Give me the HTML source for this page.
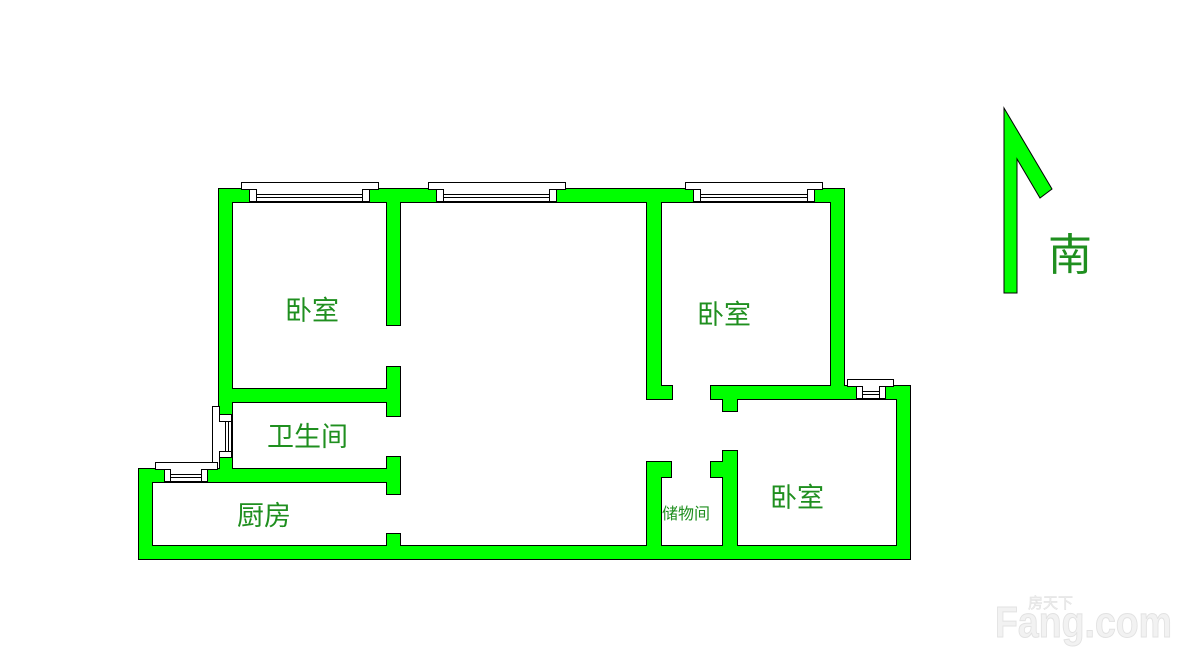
<!DOCTYPE html>
<html><head><meta charset="utf-8"><style>
html,body{margin:0;padding:0;background:#fff;}
svg{display:block;}
text{font-family:"Liberation Sans","Noto Sans CJK SC","WenQuanYi Zen Hei",sans-serif;fill:#1f8f1f;}
</style></head><body>
<svg width="1191" height="659" viewBox="0 0 1191 659" xmlns="http://www.w3.org/2000/svg">
<defs>
<g id="walls">
<rect x="219" y="189" width="624" height="13"/>
<rect x="219" y="189" width="13" height="280"/>
<rect x="387" y="189" width="13" height="136"/>
<rect x="387" y="367" width="13" height="49"/>
<rect x="219" y="389" width="181" height="13"/>
<rect x="139" y="469" width="261" height="13"/>
<rect x="387" y="457" width="13" height="37"/>
<rect x="387" y="534" width="13" height="25"/>
<rect x="139" y="469" width="13" height="90"/>
<rect x="139" y="546" width="771" height="13"/>
<rect x="647" y="189" width="14" height="210"/>
<rect x="647" y="386" width="25" height="13"/>
<rect x="831" y="189" width="13" height="210"/>
<rect x="711" y="386" width="199" height="13"/>
<rect x="723" y="399" width="14" height="12"/>
<rect x="897" y="386" width="13" height="173"/>
<rect x="723" y="451" width="14" height="108"/>
<rect x="647" y="462" width="14" height="97"/>
<rect x="647" y="462" width="24" height="15"/>
<rect x="711" y="462" width="26" height="15"/>
</g>
</defs>
<use href="#walls" fill="#000" stroke="#000" stroke-width="2"/>
<use href="#walls" fill="#00ff00"/>

<g fill="#fff" stroke="#000" stroke-width="1">
<rect x="241.5" y="182.5" width="137" height="7"/>
<rect x="249" y="189" width="121" height="13" stroke="none"/>
<line x1="257" y1="194.5" x2="362" y2="194.5"/><line x1="257" y1="197.5" x2="362" y2="197.5"/>
<line x1="257" y1="201.5" x2="362" y2="201.5"/>
<rect x="249.5" y="189.5" width="7" height="12"/><rect x="362.5" y="189.5" width="7" height="12"/>
<rect x="428.5" y="182.5" width="137" height="7"/>
<rect x="436" y="189" width="121" height="13" stroke="none"/>
<line x1="443" y1="194.5" x2="549" y2="194.5"/><line x1="443" y1="197.5" x2="549" y2="197.5"/>
<line x1="443" y1="201.5" x2="549" y2="201.5"/>
<rect x="436.5" y="189.5" width="7" height="12"/><rect x="549.5" y="189.5" width="7" height="12"/>
<rect x="685.5" y="182.5" width="137" height="7"/>
<rect x="693" y="189" width="121" height="13" stroke="none"/>
<line x1="700" y1="194.5" x2="808" y2="194.5"/><line x1="700" y1="197.5" x2="808" y2="197.5"/>
<line x1="700" y1="201.5" x2="808" y2="201.5"/>
<rect x="693.5" y="189.5" width="7" height="12"/><rect x="807.5" y="189.5" width="7" height="12"/>
<rect x="847.5" y="379.5" width="46" height="7"/>
<rect x="856" y="386" width="30" height="13" stroke="none"/>
<line x1="862" y1="391.5" x2="879" y2="391.5"/><line x1="862" y1="394.5" x2="879" y2="394.5"/>
<line x1="862" y1="398.5" x2="879" y2="398.5"/>
<rect x="856.5" y="386.5" width="6" height="12"/><rect x="879.5" y="386.5" width="6" height="12"/>
<rect x="212.5" y="406.5" width="7" height="62"/>
<rect x="219" y="414" width="13" height="43" stroke="none"/>
<line x1="225.5" y1="422" x2="225.5" y2="452"/><line x1="228.5" y1="422" x2="228.5" y2="452"/>
<line x1="231.5" y1="422" x2="231.5" y2="452"/>
<rect x="219.5" y="414.5" width="12" height="7"/><rect x="219.5" y="451.5" width="12" height="6"/>
<rect x="155.5" y="462.5" width="62" height="7"/>
<rect x="164" y="469" width="43" height="13" stroke="none"/>
<line x1="171" y1="474.5" x2="201" y2="474.5"/><line x1="171" y1="477.5" x2="201" y2="477.5"/>
<line x1="171" y1="481.5" x2="201" y2="481.5"/>
<rect x="164.5" y="469.5" width="6" height="12"/><rect x="201.5" y="469.5" width="6" height="12"/>
</g>

<polygon points="1004,108 1052,189 1040,198 1017,159 1017,293 1004,293" fill="#00ff00" stroke="#000" stroke-width="1"/>
<text x="1048" y="270" font-size="44">南</text>

<text x="285" y="320" font-size="27">卧室</text>
<text x="697" y="324" font-size="27">卧室</text>
<text x="267" y="446" font-size="27">卫生间</text>
<text x="237" y="525" font-size="27">厨房</text>
<text x="770" y="507" font-size="27">卧室</text>
<text x="662" y="519" font-size="16">储物间</text>

<text x="1028" y="608" font-size="15" style="fill:#eeeeee;stroke:#e0e0e0;stroke-width:0.5">房天下</text>
<text x="995" y="637" font-size="44" font-weight="bold" textLength="177" lengthAdjust="spacingAndGlyphs" style="fill:#f2f2f2;stroke:#e2e2e2;stroke-width:1">Fang.com</text>
</svg>
</body></html>
